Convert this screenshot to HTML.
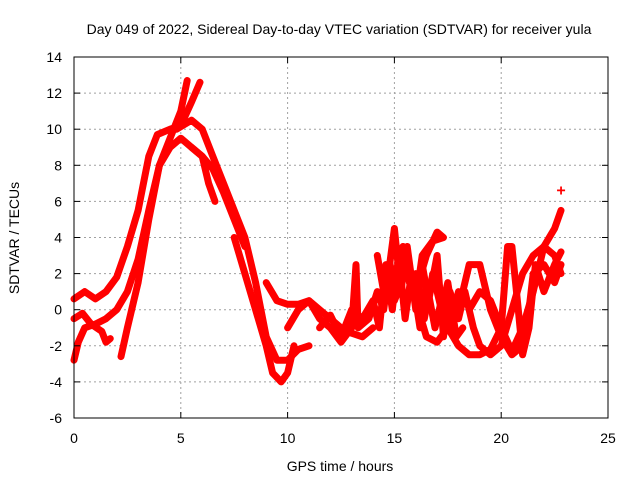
<!DOCTYPE html>
<html><head><meta charset="utf-8"><style>
body{margin:0;background:#fff;width:640px;height:480px;overflow:hidden}
text{font-family:"Liberation Sans",sans-serif;font-size:14px;fill:#000}
</style></head><body>
<svg id="chart" width="640" height="480" xmlns="http://www.w3.org/2000/svg">
<rect width="640" height="480" fill="#fff"/>
<text x="339" y="34" text-anchor="middle">Day 049 of 2022, Sidereal Day-to-day VTEC variation (SDTVAR) for receiver yula</text>
<text x="340" y="471" text-anchor="middle">GPS time / hours</text>
<text transform="translate(19,238) rotate(-90)" text-anchor="middle">SDTVAR / TECUs</text>
<g id="grid"></g>
<g id="series"></g>
<rect x="74" y="57" width="534" height="361" fill="none" stroke="#000" stroke-width="1"/>
<g id="ticks"></g>
</svg>
<script>
const xTicks=[0,5,10,15,20,25];
const yTicks=[-6,-4,-2,0,2,4,6,8,10,12,14];
const sA=[[0,-2.8],[0.2,-1.8],[0.5,-1],[1,-0.8],[1.5,-0.5],[2,0],[2.5,1],[3,2.8],[3.5,5.5],[4,8],[4.5,9.5],[5,11],[5.3,12.7]];
const sB=[[0,0.6],[0.5,1],[1,0.6],[1.5,1],[2,1.8],[2.5,3.5],[3,5.5],[3.5,8.5],[3.9,9.7],[4.5,10],[5,10.2],[5.5,11.5],[5.9,12.6]];
const sC=[[0,-0.5],[0.4,-0.2],[0.8,-0.8],[1.3,-1.2],[1.5,-1.8],[1.7,-1.6]];
const sD=[[2.2,-2.6],[2.5,-1],[3,1.5],[3.5,5],[4,8],[4.5,9],[5,9.5],[5.5,9],[6,8.5],[6.5,7.8],[7,6.5],[7.5,5],[8,3.5]];
const sE=[[4.8,10],[5.5,10.5],[6,10],[6.5,8.5],[7,7],[7.5,5.5],[8,4],[8.5,1.5],[9,-1.5],[9.5,-2.8],[10,-2.8],[10.5,-2.2],[11,-2]];
const sF=[[5.5,9],[6,8.5],[6.3,7],[6.6,6]];
const sG=[[7.5,4],[8,2],[8.5,0],[9,-2],[9.3,-3.5],[9.7,-4],[10,-3.5],[10.3,-2]];
const sH=[[9,1.5],[9.5,0.5],[10,0.3],[10.5,0.3],[11,0.5],[11.5,0],[12,-0.5],[12.5,-1],[13,-1.3],[13.5,-1.5],[14,-1]];
const sI=[[10,-1],[10.5,0],[11,0.5],[11.5,-0.5],[12,-1],[12.5,-1.8],[13,-1],[13.2,2.5],[13.3,-1],[13.8,-0.5],[14.2,1],[14.5,0],[15,4.5],[15.3,1],[15.6,3.5],[16,0],[16.3,2.5],[16.6,0.5],[17,3],[17.3,-1.5],[17.6,1],[18,-0.5],[18.3,1],[18.7,-1],[19,-2],[19.5,-2.5],[20,-2],[20.5,0],[21,2],[21.5,3],[22,3.5],[22.5,4.5],[22.8,5.5]];
const sJ=[[14.5,2],[15,0.5],[15.5,2],[16,1],[16.5,3],[17,4.3],[17.3,4],[16.8,3.8],[16.3,3],[16,0.5],[16.5,-1.5],[17,-1.8],[17.5,-1],[18,0],[18.5,2.5],[19,2.5],[19.5,0],[20,-1.5],[20.5,-2.5],[21,-2],[21.3,0],[21.5,2],[22,2.5],[22.5,1.5],[22.8,2.5]];
const sK=[[17.5,-1],[18,-2],[18.5,-2.5],[19,-2.5],[19.5,-2.2],[20,-1],[20.3,3.5],[20.5,3.5],[20.8,0],[21,-2.5],[21.3,-1],[21.6,2.5],[22,1],[22.5,2.5],[22.8,3.2]];
const sL=[[18.5,0],[19,1],[19.5,0.5],[20,-1],[20.5,-2.3],[21,-1],[21.5,1],[22,3.5],[22.5,3],[22.8,2]];
const sM=[[11.5,-1],[12,-0.3],[12.5,-1.5],[13,0],[13.5,-0.5],[14,0.5],[14.3,-1],[14.6,2.5],[14.9,0],[15.2,3],[15.5,-0.5],[15.8,2],[16.2,-1],[16.5,1.5],[16.9,-1],[17.2,0.5],[17.6,-0.8],[18,1]];
const sN=[[14.2,3],[14.5,1],[14.8,2.5],[15.1,1],[15.4,3.5],[15.7,1.5],[16,2],[16.4,-0.5],[16.8,2],[17.2,0],[17.5,1.5],[17.9,-1.5],[18.2,-1]];
const sPt=[[22.8,6.6]];
const allSeries=[sA,sB,sC,sD,sE,sF,sG,sH,sI,sJ,sK,sL,sM,sN,sPt];
const X0=74,X1=608,Y0=418,Y1=57;
const xs=t=>X0+(t-0)/(25-0)*(X1-X0);
const ys=v=>Y0-(v+6)/20*(Y0-Y1);
const NS='http://www.w3.org/2000/svg';
const grid=document.getElementById('grid'),ticks=document.getElementById('ticks'),ser=document.getElementById('series');
function mk(tag,attrs,parent){const e=document.createElementNS(NS,tag);for(const k in attrs)e.setAttribute(k,attrs[k]);parent.appendChild(e);return e;}
xTicks.forEach(t=>{
  const x=xs(t);
  if(t>0&&t<25){const g=mk('line',{x1:x,x2:x,y1:Y1,y2:Y0,stroke:'#a0a0a0','stroke-dasharray':'2,3'},grid);
  
  }
  mk('line',{x1:x,x2:x,y1:Y0,y2:Y0-6,stroke:'#000'},ticks);
  mk('line',{x1:x,x2:x,y1:Y1,y2:Y1+6,stroke:'#000'},ticks);
  const l=mk('text',{x:x,y:443,'text-anchor':'middle'},ticks);l.textContent=t;
  
  
});
yTicks.forEach(v=>{
  const y=ys(v);
  if(v>-6&&v<14){const g=mk('line',{x1:X0,x2:X1,y1:y,y2:y,stroke:'#a0a0a0','stroke-dasharray':'2,3'},grid);
  
  }
  mk('line',{x1:X0,x2:X0+6,y1:y,y2:y,stroke:'#000'},ticks);
  mk('line',{x1:X1,x2:X1-6,y1:y,y2:y,stroke:'#000'},ticks);
  const l=mk('text',{x:62,y:y+5,'text-anchor':'end'},ticks);l.textContent=v;
  
  
});
allSeries.forEach((s,i)=>{
  const pts=s.map(p=>xs(p[0]).toFixed(1)+','+ys(p[1]).toFixed(1)).join(' ');
  let e;
  if(s.length===1){e=mk('text',{x:xs(s[0][0]),y:ys(s[0][1])+5,'text-anchor':'middle',style:'fill:#f00;font-size:16px;font-weight:bold'},ser);e.textContent='+';}
  else e=mk('polyline',{points:pts,fill:'none',stroke:'#ff0000','stroke-width':7,'stroke-linejoin':'round','stroke-linecap':'round'},ser);
  
  
});
</script>
</body></html>
